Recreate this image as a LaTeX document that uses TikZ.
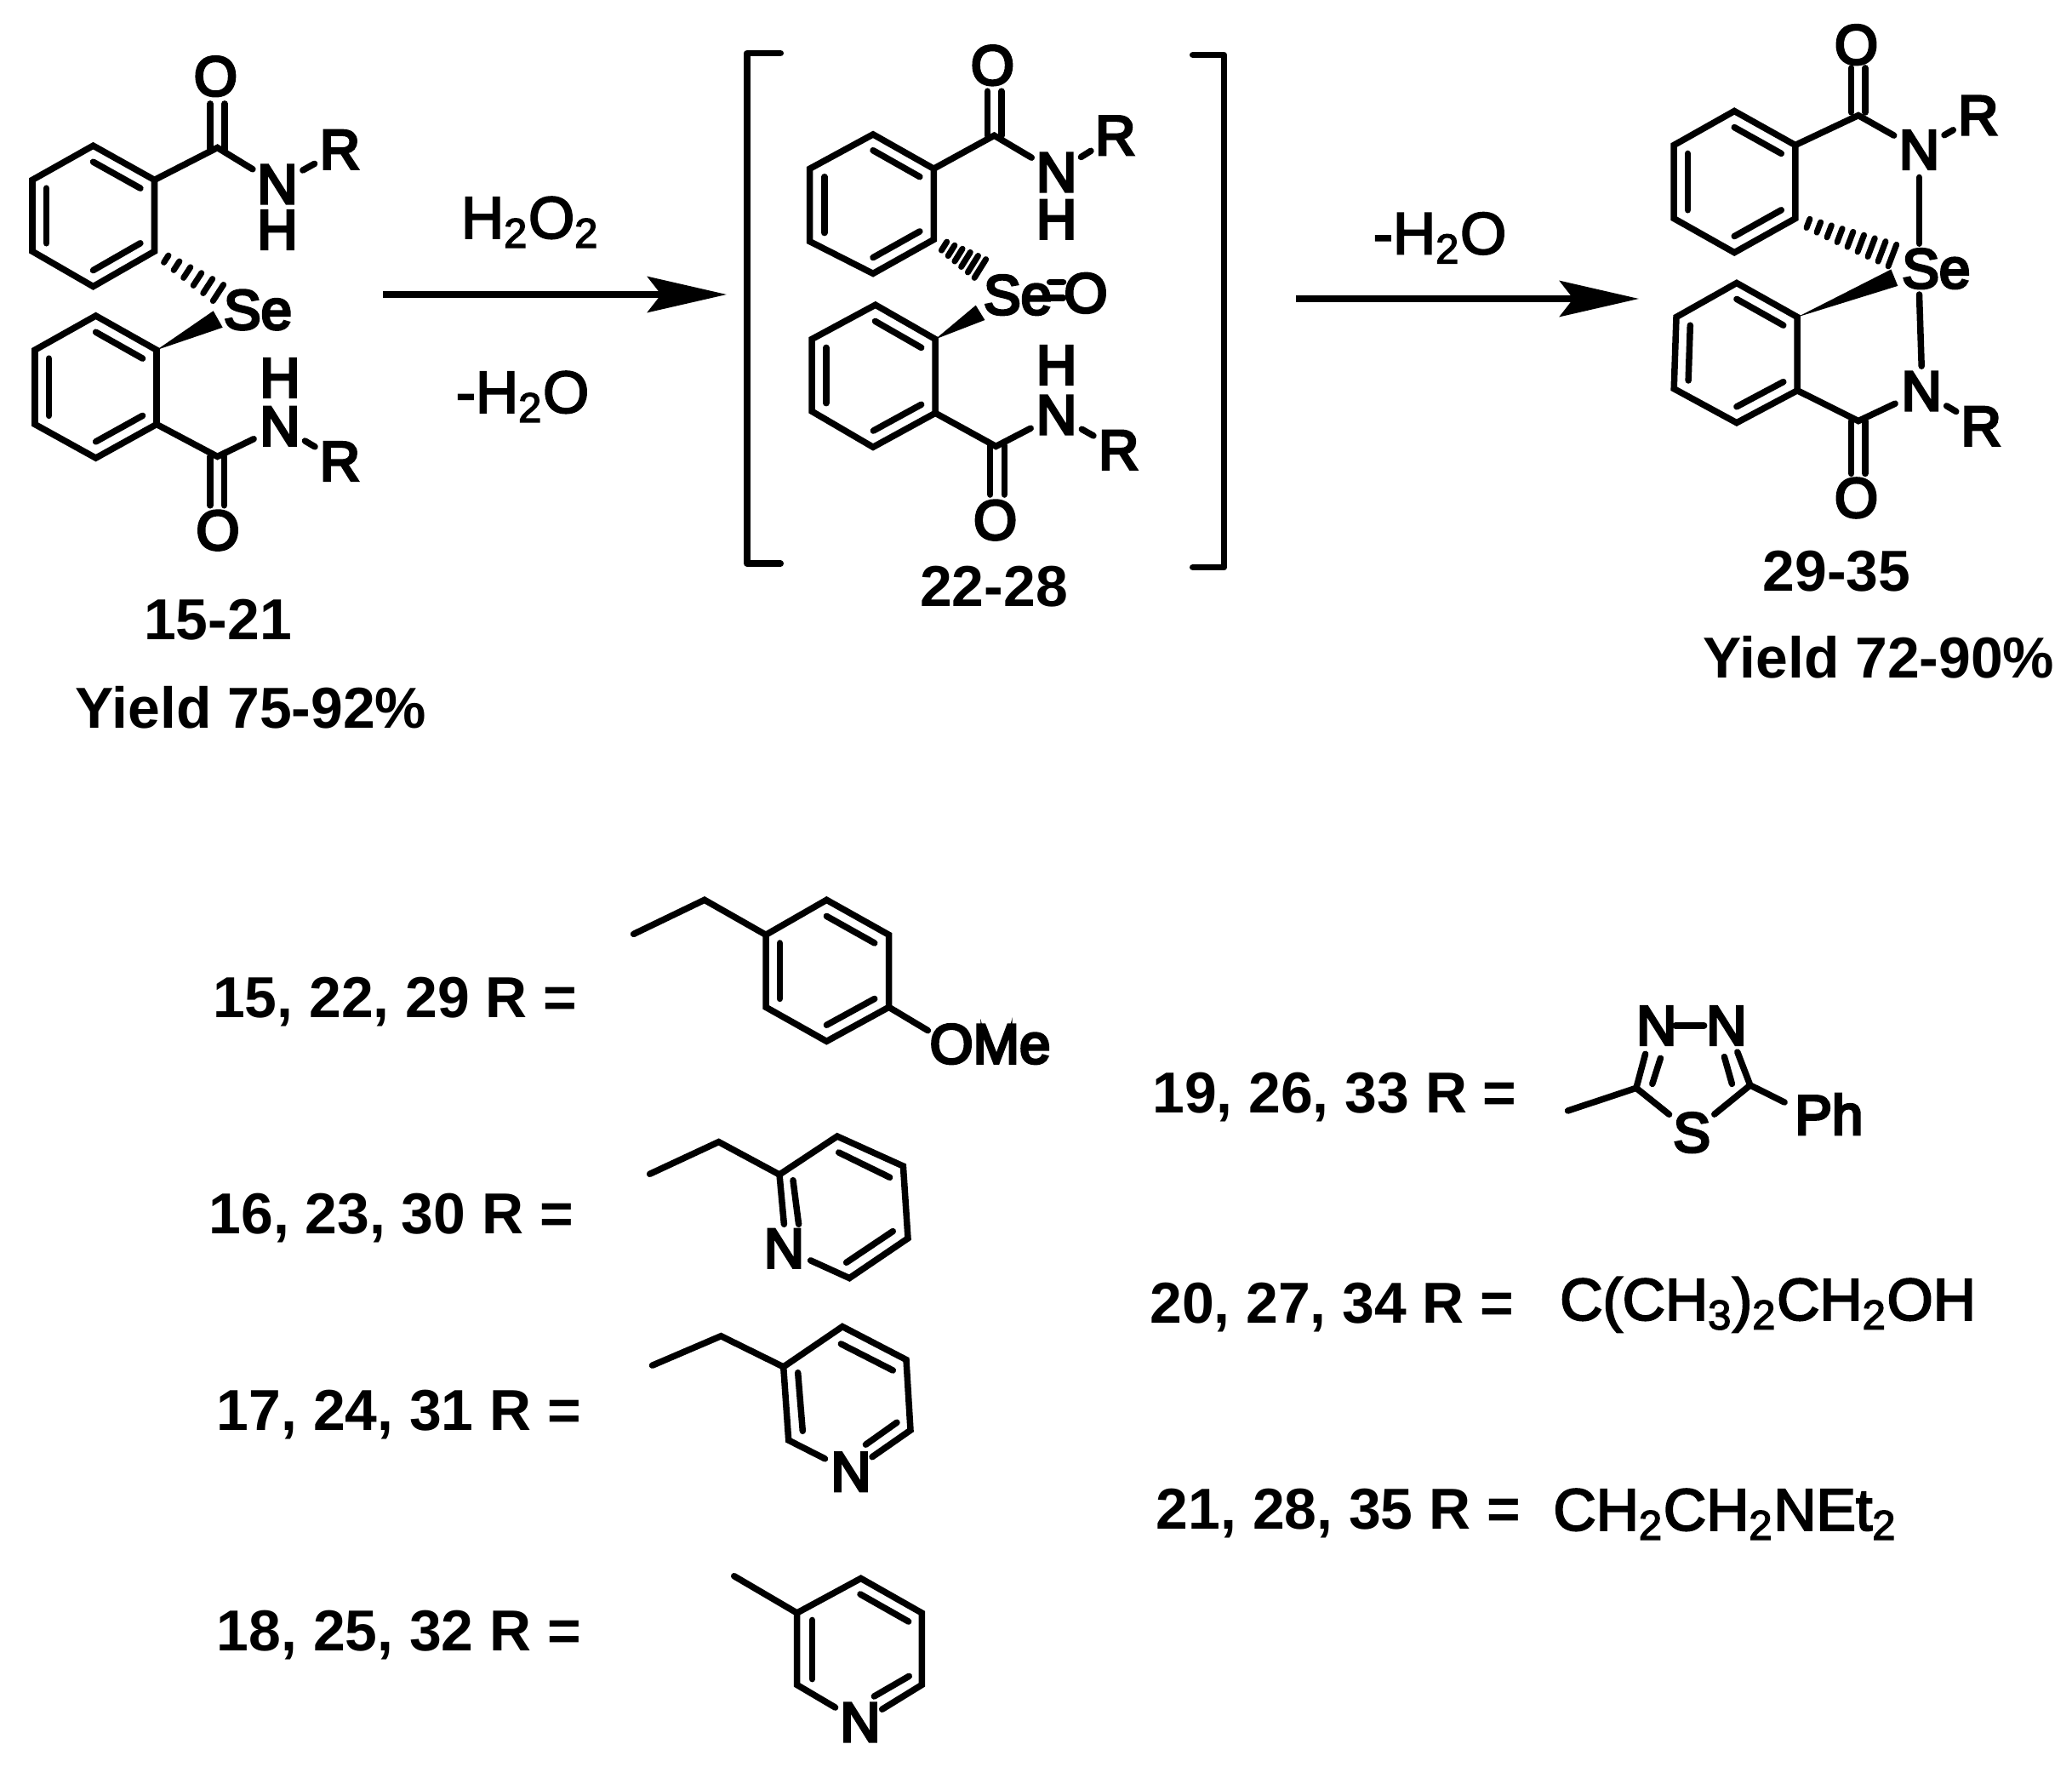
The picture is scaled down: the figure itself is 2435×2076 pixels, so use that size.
\documentclass[tikz,border=0pt]{standalone}
\usepackage{fontspec}
\setmainfont{Liberation Sans}
\newfontfamily\atomFont{Liberation Sans}[FakeBold=5]
\newfontfamily\reagentFont{Liberation Sans}[FakeBold=3]
\usetikzlibrary{calc,shapes.geometric,arrows.meta}

\begin{document}
\begin{tikzpicture}
[x=0.01cm,y=-0.01cm,%
  bondDecorate/.style={line width=0.075cm,line cap=round,line join=miter},%
  hashDecorate/.style={line width=0.07cm,line cap=round},%
  arrowDecorate/.style={line width=0.075cm,-{Stealth[length=0.93cm,width=0.42cm,inset=0.16cm]}},%
  atomDecorate/.style={shape=ellipse,inner sep=0pt,minimum width=0.68cm,minimum height=0.5cm,font=\atomFont\fontsize{18.6}{22}\selectfont},%
  textDecorate/.style={inner sep=0pt,font=\reagentFont\fontsize{19.8}{24}\selectfont},%
  captionDecorate/.style={inner sep=0pt,font=\bfseries\fontsize{19.3}{23}\selectfont}]
\useasboundingbox (0,0) rectangle (2435,2076);
%% ring corners and free bond ends
\foreach \nodename/\x/\y in {
  aa1/109.5/171.2, aa2/181.5/211.4, aa3/181.5/295.3, aa4/109.5/336.6, aa5/38/295.3, aa6/38/211.4,
  ab1/112.6/371, ab2/184/411.2, ab3/184/498.5, ab4/112.6/538.1, ab5/41/498.5, ab6/41/411.2,
  aC1/255.5/173.5, aC2/255.5/536.4, aTail/258/345, aWa/250.7/365.3, aWb/261.7/384.8,
  aDa1/247/175.8, aDa2/247/121.9, aDb1/264/175.8, aDb2/264/121.9,
  aDc1/247/536.4, aDc2/247/593.8, aDd1/263.5/536.4, aDd2/263.5/593.8,
  ba1/1026/157.9, ba2/1097.3/198.2, ba3/1097.3/281.5, ba4/1026/321.4, ba5/951.7/283.7, ba6/951.7/198.2,
  bb1/1028.8/358.2, bb2/1099.2/398.5, bb3/1099.2/485.3, bb4/1026/525.3, bb5/954/483.2, bb6/954/398.5,
  bC1/1168.4/159.2, bC2/1170.4/524.4, bTail/1153/316.2, bWa/1146.7/358.7, bWb/1157.4/376,
  bDa1/1160.5/159.4, bDa2/1160.5/107.2, bDb1/1177/159.4, bDb2/1177/107.2,
  bDc1/1163.7/523.5, bDc2/1163.7/581.1, bDd1/1180.3/523.5, bDd2/1180.3/581.1,
  bSa1/1233.7/331.4, bSa2/1249.5/331.4, bSb1/1233.7/350, bSb2/1249.5/350,
  ca1/2038.2/130.5, ca2/2109.8/170.5, ca3/2109.8/256.7, ca4/2038.2/296.7, ca5/1967.2/256.7, ca6/1967.2/170.5,
  cb1/2040.9/332.5, cb2/2112.2/372.5, cb3/2112.2/458.8, cb4/2040.9/496.7, cb5/1967.2/456.7, cb6/1970/372.5,
  cC1/2183.9/135.6, cC2/2183.9/494.6, cTail/2226.2/301, cWa/2222.4/316.5, cWb/2230.3/335.9,
  cDa1/2175.7/132, cDa2/2175.7/79.9, cDb1/2192/132, cDb2/2192/79.9,
  cDc1/2175.7/494.7, cDc2/2175.7/556.4, cDd1/2192/494.7, cDd2/2192/556.4,
  cSeTop/2255.5/286.2, cSeBot/2255.5/346, cNBot/2258.2/430.2,
  lbTipa/917.3/62.6, lbTop/877.8/62.6, lbBot/877.8/662.2, lbTipb/917.3/662.2,
  rbTipa/1401.7/64.7, rbTop/1438.5/64.7, rbBot/1438.5/666.6, rbTipb/1401.7/666.6,
  arrowAa/450/346, arrowAb/854/346, arrowBa/1523/351, arrowBb/1926/351,
  da1/971.4/1057.3, da2/1044.6/1098.3, da3/1044.6/1183.3, da4/971.4/1223.4, da5/900/1183.3, da6/900/1098.3,
  dMe/744.6/1097.4, dCh/827.9/1057.3, dOEnd/1090.4/1210.7,
  ea1/916/1380, ea2/983.9/1335, ea3/1061.4/1370, ea4/1067/1454.9, ea5/998.2/1501.6,
  eMe/763.6/1379.3, eCh/844.6/1341.6, eOut/921.4/1438.3,
  eIa/932/1386.7, eIb/938.6/1438.3, eIc/985.7/1354, eId/1045.7/1383.3, eIe/1049.3/1446.6, eIf/994.6/1483.3,
  fa1/920.7/1605.9, fa2/990/1558.6, fa3/1065/1597.5, fa4/1070/1680.3, fa5/926.7/1692.1,
  fMe/766.6/1604.2, fCh/847.3/1569.7, fOut/1025/1711.7,
  fIa/937.7/1612.7, fIb/943.3/1681.3, fIc/988.3/1578.9, fId/1049.3/1610, fIe/1054/1671.2, fIf/1017.4/1697.2,
  ga1/936.6/1895, ga2/1011.7/1854.4, ga3/1083.3/1895, ga4/1083.3/1979.5, ga5/936.6/1979.5,
  gMe/862.7/1851.7, gOut/1036.7/2008.2,
  gIa/954.4/1903.4, gIb/954.4/1972.7, gIc/1011/1873, gId/1067.7/1905.1, gIe/1068.3/1969.3, gIf/1027.3/1993,
  hC1/1922.9/1278.3, hC2/2056.8/1275, hMe/1842.5/1305, hPhEnd/2097.1/1295,
  hOa/1933.6/1238.3, hIa/1941.8/1273.4, hIb/1951.4/1243.3,
  hOb/2041.8/1236, hIc/2035.4/1273.4, hId/2026.4/1241.6}
{
  \coordinate (\nodename) at (\x,\y);
}
%% atoms
\foreach \nodename/\x/\y/\elem in {
  aO1/253.4/89.7/O, aN1/326/216.6/N, aH1/326/270/H, aR1/399.5/175.8/R,
  aO2/256/623.1/O, aN2/329/500.8/N, aH2/329/444/H, aR2/399.5/542.1/R,
  aSe/303/364.1/Se,
  bO1/1166.4/76.8/O, bN1/1241.6/202.6/N, bH1/1241.6/257.7/H, bR1/1310.8/159.2/R,
  bO2/1169.6/611.1/O, bN2/1241.6/487.5/N, bH2/1241.6/429/H, bR2/1314.7/528.7/R,
  bSe/1196/346.6/Se, bO3/1276/344.4/O,
  cO1/2181.5/52.6/O, cN1/2255.5/175.9/N, cR1/2324.8/135.6/R,
  cO2/2181.5/585/O, cN2/2258.2/459.6/N, cR2/2328.2/500.8/R,
  cSe/2275.3/315.7/Se,
  eN/921.4/1466.7/N, fN/1000/1729.3/N, gN/1011/2023.4/N,
  hNa/1946.8/1205/N, hNb/2028.9/1205/N, hS/1988.2/1330.7/S}
{
  \node (\nodename) at (\x,\y) [atomDecorate] {\elem};
}
\node (dOMe) at (1092,1226.6) [atomDecorate,anchor=west,shape=rectangle] {OMe};
\node (hPh) at (2108.6,1309) [atomDecorate,anchor=west,shape=rectangle] {Ph};
%% benzene rings
\foreach \ringname in {aa,ab,ba,bb,ca,cb,da}
{
  \draw[bondDecorate] (\ringname1) -- (\ringname2) -- (\ringname3) -- (\ringname4) -- (\ringname5) -- (\ringname6) -- cycle;
  \foreach \startv/\endv in {1/2,3/4,5/6}
    \draw[bondDecorate] ($(\ringname1)!0.5!(\ringname4)!0.77!(\ringname\startv)$) -- ($(\ringname1)!0.5!(\ringname4)!0.77!(\ringname\endv)$);
}
%% bent chains
\foreach \startnode/\midnode/\endnode in {
  aa2/aC1/aN1, ab3/aC2/aN2, ba2/bC1/bN1, bb3/bC2/bN2, ca2/cC1/cN1, cb3/cC2/cN2,
  dMe/dCh/da6, eMe/eCh/ea1, fMe/fCh/fa1, hS/hC1/hOa, hS/hC2/hOb}
{
  \draw[bondDecorate] (\startnode) -- (\midnode) -- (\endnode);
}
%% pyridine rings
\draw[bondDecorate] (eN) -- (ea5) -- (ea4) -- (ea3) -- (ea2) -- (ea1) -- (eOut);
\draw[bondDecorate] (fN) -- (fa5) -- (fa1) -- (fa2) -- (fa3) -- (fa4) -- (fOut);
\draw[bondDecorate] (gN) -- (ga5) -- (ga1) -- (ga2) -- (ga3) -- (ga4) -- (gOut);
%% plain bonds
\foreach \startnode/\endnode in {
  aN1/aR1, aN2/aR2, aDa1/aDa2, aDb1/aDb2, aDc1/aDc2, aDd1/aDd2,
  bN1/bR1, bN2/bR2, bDa1/bDa2, bDb1/bDb2, bDc1/bDc2, bDd1/bDd2, bSa1/bSa2, bSb1/bSb2,
  cN1/cR1, cN2/cR2, cDa1/cDa2, cDb1/cDb2, cDc1/cDc2, cDd1/cDd2,
  cN1/cSeTop, cSeBot/cNBot,
  da3/dOEnd, ga1/gMe,
  eIa/eIb, eIc/eId, eIe/eIf,
  fIa/fIb, fIc/fId, fIe/fIf,
  gIa/gIb, gIc/gId, gIe/gIf,
  hMe/hC1, hC2/hPhEnd, hIa/hIb, hIc/hId}
{
  \draw[bondDecorate] (\startnode) -- (\endnode);
}
\draw[bondDecorate,shorten <=-3.6pt,shorten >=-2.4pt] (hNa.east) -- (hNb.west);
%% wedges
\foreach \apex/\sidea/\sideb in {ab2/aWa/aWb, bb2/bWa/bWb, cb2/cWa/cWb}
{
  \fill (\apex) -- (\sidea) -- (\sideb) -- cycle;
}
\foreach \apex/\tailnode/\halfwide/\stripes/\begint in {
  aa3/aTail/11.5/6/0.18, ba3/bTail/13/6/0.22, ca3/cTail/13.8/9/0.13}
{
  \foreach \stripe in {1,...,\stripes}
  {
    \pgfmathsetmacro\tval{\begint+(0.98-\begint)*(\stripe-1)/(\stripes-1)}
    \pgfmathsetmacro\hval{(0.3+0.7*\tval)*\halfwide}
    \draw[hashDecorate] ($(\apex)!\tval!(\tailnode)!{\hval*0.2845pt}!90:(\tailnode)$) -- ($(\apex)!\tval!(\tailnode)!{\hval*0.2845pt}!-90:(\tailnode)$);
  }
}
%% brackets and arrows
\draw[bondDecorate,line join=round] (lbTipa) -- (lbTop) -- (lbBot) -- (lbTipb);
\draw[bondDecorate,line join=round] (rbTipa) -- (rbTop) -- (rbBot) -- (rbTipb);
\draw[arrowDecorate] (arrowAa) -- (arrowAb);
\draw[arrowDecorate] (arrowBa) -- (arrowBb);
%% texts
\node (reagentA) at (623,261) [textDecorate] {H\textsubscript{2}O\textsubscript{2}};
\node (lossA) at (614,466) [textDecorate] {-H\textsubscript{2}O};
\node (lossB) at (1692,279.5) [textDecorate] {-H\textsubscript{2}O};
\node (groupE) at (1832.5,1532.8) [textDecorate,anchor=west] {C(CH\textsubscript{3})\textsubscript{2}CH\textsubscript{2}OH};
\node (groupF) at (1824.7,1779) [textDecorate,anchor=west] {CH\textsubscript{2}CH\textsubscript{2}NEt\textsubscript{2}};
\foreach \nodename/\x/\y/\nodetext in {
  numA/256/728.4/{15-21}, yieldA/295/831/{Yield 75-92\%},
  numB/1168/689.5/{22-28},
  numC/2158.7/671/{29-35}, yieldC/2208/772/{Yield 72-90\%},
  setA/464.3/1177.5/{15, 22, 29 R =}, setB/459.7/1431/{16, 23, 30 R =},
  setC/469/1662/{17, 24, 31 R =}, setD/469/1921.5/{18, 25, 32 R =},
  setE/1568.5/1289.5/{19, 26, 33 R =}, setF/1565.4/1536/{20, 27, 34 R =},
  setG/1573/1778/{21, 28, 35 R =}}
{
  \node (\nodename) at (\x,\y) [captionDecorate] {\nodetext};
}
\end{tikzpicture}
\end{document}
